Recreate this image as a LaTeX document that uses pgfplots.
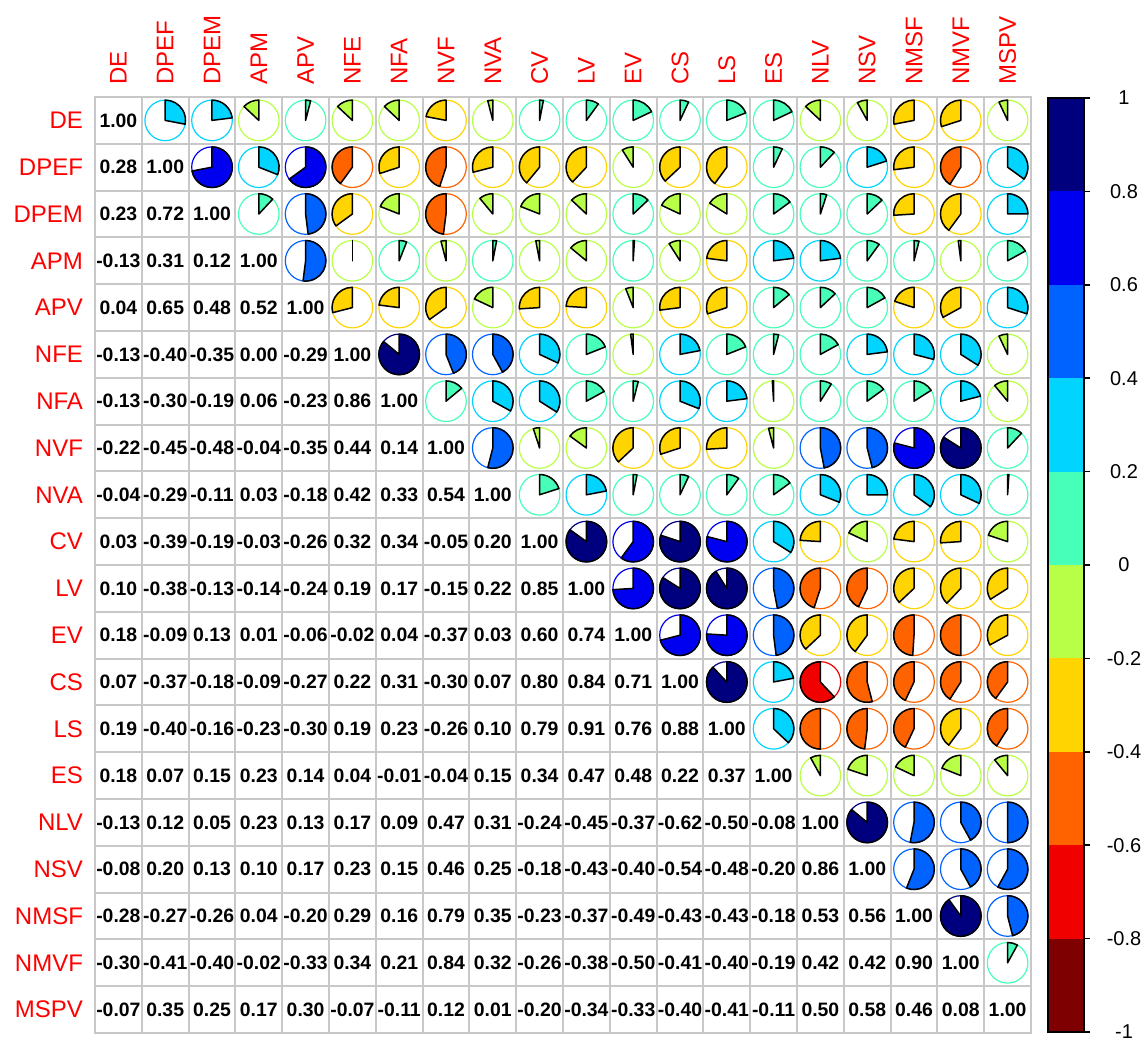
\documentclass[border=0pt]{standalone}
\usepackage{pgfplots}
\pgfplotsset{compat=1.18}
\usepackage{pgfplotstable}
\usepackage{fontspec}
\setmainfont{Liberation Sans}
\definecolor{c1}{RGB}{127,0,0}
\definecolor{c2}{RGB}{241,0,0}
\definecolor{c3}{RGB}{255,99,0}
\definecolor{c4}{RGB}{255,212,0}
\definecolor{c5}{RGB}{184,255,71}
\definecolor{c6}{RGB}{71,255,184}
\definecolor{c7}{RGB}{0,212,255}
\definecolor{c8}{RGB}{0,99,255}
\definecolor{c9}{RGB}{0,0,241}
\definecolor{c10}{RGB}{0,0,127}
\definecolor{gridgray}{RGB}{200,200,200}
\pgfdeclareplotmark{emptymark}{}
\def\corrcol#1{\ifdim#1pt>0.8pt c10\else\ifdim#1pt>0.6pt c9\else\ifdim#1pt>0.4pt c8\else\ifdim#1pt>0.2pt c7\else\ifdim#1pt>0pt c6\else\ifdim#1pt>-0.2pt c5\else\ifdim#1pt>-0.4pt c4\else\ifdim#1pt>-0.6pt c3\else\ifdim#1pt>-0.8pt c2\else c1\fi\fi\fi\fi\fi\fi\fi\fi\fi}
\def\pier{10.15pt}
\def\cname{c6}
\def\ang{90}
% pie glyph: coloured circle, wedge from 12 o'clock (clockwise for positive values)
\pgfdeclareplotmark{corrpie}{%
  \pgfsetlinewidth{0.6pt}%
  \pgfsetstrokecolor{\cname}%
  \pgfpathcircle{\pgfpointorigin}{\pier}%
  \pgfusepath{stroke}%
  \pgfsetfillcolor{\cname}%
  \pgfsetstrokecolor{black}%
  \pgfsetlinewidth{0.75pt}%
  \pgfsetroundjoin
  \pgfpathmoveto{\pgfpointorigin}%
  \pgfpathlineto{\pgfqpoint{0pt}{\pier}}%
  \pgfpatharc{90}{\ang}{\pier}%
  \pgfpathclose
  \pgfusepath{fill,stroke}%
}
% lower triangle of the correlation matrix: row index, column index, value
\pgfplotstableread{
row col r
2 1 0.28
3 1 0.23
3 2 0.72
4 1 -0.13
4 2 0.31
4 3 0.12
5 1 0.04
5 2 0.65
5 3 0.48
5 4 0.52
6 1 -0.13
6 2 -0.40
6 3 -0.35
6 4 0.00
6 5 -0.29
7 1 -0.13
7 2 -0.30
7 3 -0.19
7 4 0.06
7 5 -0.23
7 6 0.86
8 1 -0.22
8 2 -0.45
8 3 -0.48
8 4 -0.04
8 5 -0.35
8 6 0.44
8 7 0.14
9 1 -0.04
9 2 -0.29
9 3 -0.11
9 4 0.03
9 5 -0.18
9 6 0.42
9 7 0.33
9 8 0.54
10 1 0.03
10 2 -0.39
10 3 -0.19
10 4 -0.03
10 5 -0.26
10 6 0.32
10 7 0.34
10 8 -0.05
10 9 0.20
11 1 0.10
11 2 -0.38
11 3 -0.13
11 4 -0.14
11 5 -0.24
11 6 0.19
11 7 0.17
11 8 -0.15
11 9 0.22
11 10 0.85
12 1 0.18
12 2 -0.09
12 3 0.13
12 4 0.01
12 5 -0.06
12 6 -0.02
12 7 0.04
12 8 -0.37
12 9 0.03
12 10 0.601
12 11 0.74
13 1 0.07
13 2 -0.37
13 3 -0.18
13 4 -0.09
13 5 -0.27
13 6 0.22
13 7 0.31
13 8 -0.30
13 9 0.07
13 10 0.801
13 11 0.84
13 12 0.71
14 1 0.19
14 2 -0.399
14 3 -0.16
14 4 -0.23
14 5 -0.30
14 6 0.19
14 7 0.23
14 8 -0.26
14 9 0.10
14 10 0.79
14 11 0.91
14 12 0.76
14 13 0.88
15 1 0.18
15 2 0.07
15 3 0.15
15 4 0.23
15 5 0.14
15 6 0.04
15 7 -0.01
15 8 -0.04
15 9 0.15
15 10 0.34
15 11 0.47
15 12 0.48
15 13 0.22
15 14 0.37
16 1 -0.13
16 2 0.12
16 3 0.05
16 4 0.23
16 5 0.13
16 6 0.17
16 7 0.09
16 8 0.47
16 9 0.31
16 10 -0.24
16 11 -0.45
16 12 -0.37
16 13 -0.62
16 14 -0.50
16 15 -0.08
17 1 -0.08
17 2 0.201
17 3 0.13
17 4 0.10
17 5 0.17
17 6 0.23
17 7 0.15
17 8 0.46
17 9 0.25
17 10 -0.18
17 11 -0.43
17 12 -0.399
17 13 -0.54
17 14 -0.48
17 15 -0.199
17 16 0.86
18 1 -0.28
18 2 -0.27
18 3 -0.26
18 4 0.04
18 5 -0.20
18 6 0.29
18 7 0.16
18 8 0.79
18 9 0.35
18 10 -0.23
18 11 -0.37
18 12 -0.49
18 13 -0.43
18 14 -0.43
18 15 -0.18
18 16 0.53
18 17 0.56
19 1 -0.30
19 2 -0.41
19 3 -0.399
19 4 -0.02
19 5 -0.33
19 6 0.34
19 7 0.21
19 8 0.84
19 9 0.32
19 10 -0.26
19 11 -0.38
19 12 -0.50
19 13 -0.41
19 14 -0.399
19 15 -0.19
19 16 0.42
19 17 0.42
19 18 0.90
20 1 -0.07
20 2 0.35
20 3 0.25
20 4 0.17
20 5 0.30
20 6 -0.07
20 7 -0.11
20 8 0.12
20 9 0.01
20 10 -0.199
20 11 -0.34
20 12 -0.33
20 13 -0.40
20 14 -0.41
20 15 -0.11
20 16 0.50
20 17 0.58
20 18 0.46
20 19 0.08
}\corrdata

\begin{document}
\begin{tikzpicture}
\useasboundingbox (-47.5pt,-4pt) rectangle (526pt,516.5pt);
\begin{axis}[
  at={(0,0)}, anchor=south west,
  x=23.4pt, y=23.4pt,
  xmin=0.5, xmax=20.5, ymin=0.5, ymax=20.5,
  clip=false,
  xtick={1,...,20}, ytick={1,...,20},
  xticklabels={DE,DPEF,DPEM,APM,APV,NFE,NFA,NVF,NVA,CV,LV,EV,CS,LS,ES,NLV,NSV,NMSF,NMVF,MSPV},
  yticklabels={MSPV,NMVF,NMSF,NSV,NLV,ES,LS,CS,EV,LV,CV,NVA,NVF,NFA,NFE,APV,APM,DPEM,DPEF,DE},
  xticklabel pos=right,
  xticklabel style={yshift=2.5pt, rotate=90, anchor=west, text=red, font=\fontsize{12}{14}\selectfont},
  yticklabel style={xshift=-2.5pt, anchor=east, text=red, font=\fontsize{12}{14}\selectfont},
  major tick length=0pt, minor tick length=0pt,
  minor xtick={0.5,1.5,...,20.5}, minor ytick={0.5,1.5,...,20.5},
  xminorgrids=true, yminorgrids=true,
  minor grid style={gridgray, line width=1pt},
  axis line style={gridgray, line width=1pt},
]
% pies (upper triangle)
\addplot[scatter, only marks, mark=corrpie, point meta=\thisrow{r},
  visualization depends on={\thisrow{r}\as\rval},
  scatter/@pre marker code/.code={%
    \edef\cname{\corrcol{\rval}}%
    \pgfmathsetmacro\ang{90-360*\rval}%
  },
  scatter/@post marker code/.code={}]
  table[x=row, y expr={21-\thisrow{col}}]{\corrdata};
% numbers (lower triangle)
\addplot[only marks, mark=emptymark, point meta=\thisrow{r},
  nodes near coords={\pgfmathprintnumber[fixed,fixed zerofill,precision=2,assume math mode=true]{\pgfplotspointmeta}},
  nodes near coords style={anchor=center, inner sep=0pt, text=black, font=\bfseries\fontsize{9.7}{11}\selectfont}]
  table[x=col, y expr={21-\thisrow{row}}]{\corrdata};
% diagonal
\addplot[only marks, mark=emptymark, point meta=explicit symbolic,
  nodes near coords,
  nodes near coords style={anchor=center, inner sep=0pt, text=black, font=\bfseries\fontsize{9.7}{11}\selectfont}]
  coordinates {(1,20)[1.00] (2,19)[1.00] (3,18)[1.00] (4,17)[1.00] (5,16)[1.00] (6,15)[1.00] (7,14)[1.00] (8,13)[1.00] (9,12)[1.00] (10,11)[1.00] (11,10)[1.00] (12,9)[1.00] (13,8)[1.00] (14,7)[1.00] (15,6)[1.00] (16,5)[1.00] (17,4)[1.00] (18,3)[1.00] (19,2)[1.00] (20,1)[1.00]};
\end{axis}
% colour scale
\begin{axis}[
  at={(476.5pt,0.5pt)}, anchor=south west,
  width=18pt, height=467pt, scale only axis,
  xmin=0, xmax=1, ymin=-1, ymax=1,
  xtick=\empty,
  ytick={-1,-0.8,-0.6,-0.4,-0.2,0,0.2,0.4,0.6,0.8,1},
  yticklabels={-1,-0.8,-0.6,-0.4,-0.2,0,0.2,0.4,0.6,0.8,1},
  ytick pos=right, yticklabel pos=right,
  tick align=outside, major tick length=3pt,
  major tick style={black, line width=0.8pt},
  axis line style={black, line width=1pt},
  axis on top,
  yticklabel style={anchor=center, xshift=17pt, text=black, font=\fontsize{10}{12}\selectfont},
]
\addplot[fill=c1, draw=none] coordinates {(0,-1) (1,-1) (1,-0.8) (0,-0.8)};
\addplot[fill=c2, draw=none] coordinates {(0,-0.8) (1,-0.8) (1,-0.6) (0,-0.6)};
\addplot[fill=c3, draw=none] coordinates {(0,-0.6) (1,-0.6) (1,-0.4) (0,-0.4)};
\addplot[fill=c4, draw=none] coordinates {(0,-0.4) (1,-0.4) (1,-0.2) (0,-0.2)};
\addplot[fill=c5, draw=none] coordinates {(0,-0.2) (1,-0.2) (1,0) (0,0)};
\addplot[fill=c6, draw=none] coordinates {(0,0) (1,0) (1,0.2) (0,0.2)};
\addplot[fill=c7, draw=none] coordinates {(0,0.2) (1,0.2) (1,0.4) (0,0.4)};
\addplot[fill=c8, draw=none] coordinates {(0,0.4) (1,0.4) (1,0.6) (0,0.6)};
\addplot[fill=c9, draw=none] coordinates {(0,0.6) (1,0.6) (1,0.8) (0,0.8)};
\addplot[fill=c10, draw=none] coordinates {(0,0.8) (1,0.8) (1,1) (0,1)};
\end{axis}
\end{tikzpicture}
\end{document}
